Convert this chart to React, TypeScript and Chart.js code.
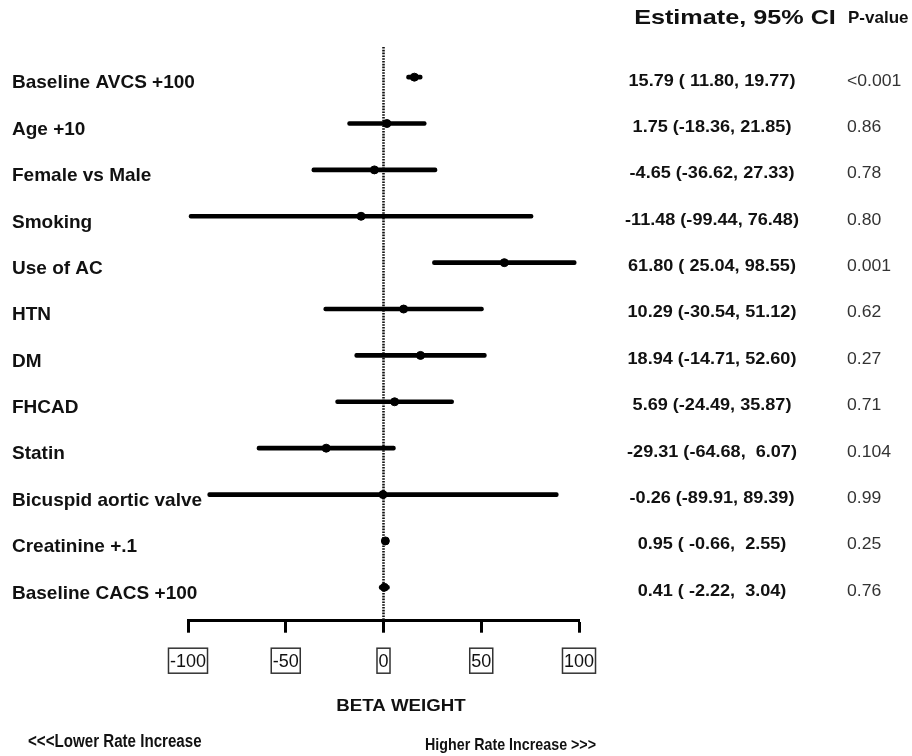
import React, { useEffect, useRef } from "react";
import { Chart, registerables } from "chart.js";

Chart.register(...registerables);

const labels = [
  "Baseline AVCS +100",
  "Age +10",
  "Female vs Male",
  "Smoking",
  "Use of AC",
  "HTN",
  "DM",
  "FHCAD",
  "Statin",
  "Bicuspid aortic valve",
  "Creatinine +.1",
  "Baseline CACS +100",
];
const estimates = [15.79, 1.75, -4.65, -11.48, 61.8, 10.29, 18.94, 5.69, -29.31, -0.26, 0.95, 0.41];
const lower = [11.8, -18.36, -36.62, -99.44, 25.04, -30.54, -14.71, -24.49, -64.68, -89.91, -0.66, -2.22];
const upper = [19.77, 21.85, 27.33, 76.48, 98.55, 51.12, 52.6, 35.87, 6.07, 89.39, 2.55, 3.04];
const estimateText = [
  "15.79 ( 11.80, 19.77)",
  "1.75 (-18.36, 21.85)",
  "-4.65 (-36.62, 27.33)",
  "-11.48 (-99.44, 76.48)",
  "61.80 ( 25.04, 98.55)",
  "10.29 (-30.54, 51.12)",
  "18.94 (-14.71, 52.60)",
  "5.69 (-24.49, 35.87)",
  "-29.31 (-64.68,  6.07)",
  "-0.26 (-89.91, 89.39)",
  "0.95 ( -0.66,  2.55)",
  "0.41 ( -2.22,  3.04)",
];
const pValues = ["<0.001", "0.86", "0.78", "0.80", "0.001", "0.62", "0.27", "0.71", "0.104", "0.99", "0.25", "0.76"];
const xTicks = [-100, -50, 0, 50, 100];
const estimateHeader = "Estimate, 95% CI";
const pHeader = "P-value";
const xTitle = "BETA WEIGHT";
const leftNote = "<<<Lower Rate Increase";
const rightNote = "Higher Rate Increase >>>";

const FAMILY = "'Liberation Sans', Arial, Helvetica, sans-serif";

function drawText(
  ctx: CanvasRenderingContext2D,
  text: string,
  x: number,
  y: number,
  font: string,
  color: string,
  align: CanvasTextAlign,
  sx: number
) {
  ctx.save();
  ctx.font = font;
  ctx.fillStyle = color;
  ctx.textBaseline = "middle";
  ctx.textAlign = align;
  ctx.translate(x, y);
  ctx.scale(sx, 1);
  ctx.fillText(text, 0, 0);
  ctx.restore();
}

const forestPlugin = {
  id: "forestExtras",
  beforeDatasetsDraw(chart: any) {
    const { ctx, chartArea, scales } = chart;
    const x0 = scales.x.getPixelForValue(0);
    ctx.save();
    ctx.strokeStyle = "#111";
    ctx.lineWidth = 2.6;
    ctx.setLineDash([1.6, 1.2]);
    ctx.beginPath();
    ctx.moveTo(x0, chartArea.top);
    ctx.lineTo(x0, chartArea.bottom);
    ctx.stroke();
    ctx.restore();
  },
  afterDraw(chart: any) {
    const { ctx, chartArea, scales } = chart;
    const y = scales.y;
    const x = scales.x;
    // header
    drawText(ctx, estimateHeader, 735, 18, `bold 21px ${FAMILY}`, "#111", "center", 1.2);
    drawText(ctx, pHeader, 848, 18, `bold 17px ${FAMILY}`, "#111", "left", 1.0);
    // row labels and columns
    labels.forEach((t, i) => {
      const py = y.getPixelForValue(i);
      drawText(ctx, t, 12, py + 6, `bold 19px ${FAMILY}`, "#111", "left", 1.0);
      drawText(ctx, estimateText[i], 712, py + 4, `bold 16px ${FAMILY}`, "#111", "center", 1.13);
      drawText(ctx, pValues[i], 847, py + 4, `16px ${FAMILY}`, "#333", "left", 1.1);
    });
    // boxes around tick labels
    ctx.save();
    ctx.font = `18px ${FAMILY}`;
    ctx.strokeStyle = "#333";
    ctx.lineWidth = 1.5;
    const top = chartArea.bottom + 12 + 19;
    xTicks.forEach((v) => {
      const px = x.getPixelForValue(v);
      const w = ctx.measureText(String(v)).width;
      ctx.strokeRect(px - w / 2 - 1.5, top - 3.5, w + 3, 25);
    });
    ctx.restore();
    // titles
    drawText(ctx, xTitle, 401, 706, `bold 17px ${FAMILY}`, "#111", "center", 1.1);
    drawText(ctx, leftNote, 28, 742, `bold 18px ${FAMILY}`, "#111", "left", 0.84);
    drawText(ctx, rightNote, 425, 745, `bold 17px ${FAMILY}`, "#111", "left", 0.84);
  },
};

export default function App() {
  const ref = useRef<HTMLCanvasElement | null>(null);
  useEffect(() => {
    if (!ref.current) return;
    const chart = new Chart(ref.current, {
      type: "bar",
      data: {
        datasets: [
          {
            type: "bar",
            data: labels.map((_, i) => ({ y: i, x: [lower[i], upper[i]] })) as any,
            backgroundColor: "#000",
            barThickness: 4,
            borderSkipped: false,
            borderRadius: 2,
          } as any,
          {
            type: "scatter",
            data: labels.map((_, i) => ({ x: estimates[i], y: i })),
            backgroundColor: "#000",
            borderColor: "#000",
            pointRadius: 4,
            pointHoverRadius: 4,
          } as any,
        ],
      },
      plugins: [forestPlugin],
      options: {
        indexAxis: "y",
        responsive: false,
        animation: false,
        events: [],
        layout: { padding: { left: 12, right: 333, top: 47, bottom: 0 } },
        plugins: { legend: { display: false }, tooltip: { enabled: false } },
        scales: {
          x: {
            type: "linear",
            position: "bottom",
            min: -100,
            max: 100,
            offset: false,
            afterBuildTicks: (s: any) => {
              s.ticks = xTicks.map((v) => ({ value: v }));
            },
            afterFit: (s: any) => {
              s.height = 756 - 620.7;
            },
            ticks: {
              autoSkip: false,
              maxRotation: 0,
              padding: 19,
              color: "#111",
              font: { family: FAMILY, size: 18 },
            },
            grid: {
              display: true,
              offset: false,
              drawOnChartArea: false,
              drawTicks: true,
              tickLength: 12,
              tickWidth: 3,
              tickColor: "#000",
            },
            border: { display: true, width: 3, color: "#000" },
          },
          y: {
            type: "linear",
            position: "left",
            reverse: true,
            offset: false,
            min: -0.65,
            max: 11.72,
            afterBuildTicks: (s: any) => {
              s.ticks = labels.map((_, i) => ({ value: i }));
            },
            afterFit: (s: any) => {
              s.width = 176;
            },
            ticks: { display: false },
            grid: { display: false, drawTicks: false, offset: false },
            border: { display: false },
          },
        },
      } as any,
    });
    return () => chart.destroy();
  }, []);
  return (
    <div style={{ position: "absolute", left: 0, top: 0, width: 912, height: 756, background: "#fff" }}>
      <canvas ref={ref} width={912} height={756} />
    </div>
  );
}
